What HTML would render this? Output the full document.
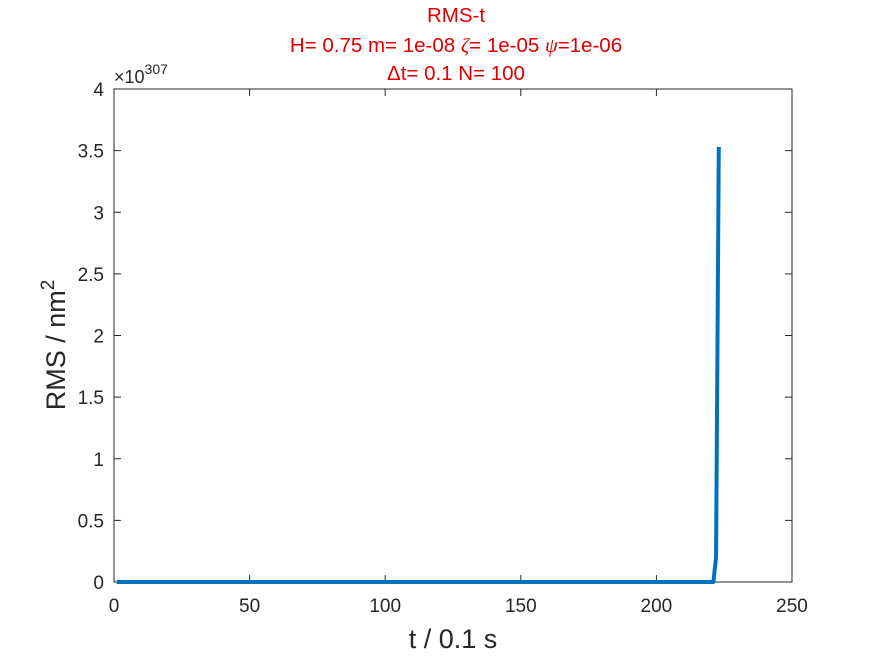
<!DOCTYPE html>
<html><head><meta charset="utf-8"><style>
body{margin:0;background:#fff;}
svg text{font-family:"Liberation Sans",Arial,sans-serif;}
</style></head><body>
<svg id="chart" width="875" height="656" viewBox="0 0 875 656">
<rect x="0" y="0" width="875" height="656" fill="#fff"/>
<g fill="#e00000" font-size="20.5" text-anchor="middle">
<text x="456" y="22">RMS-t</text>
<text x="456" y="52">H= 0.75 m= 1e-08 <tspan font-family="Liberation Serif" font-style="italic">ζ</tspan>= 1e-05 <tspan font-family="Liberation Serif" font-style="italic">ψ</tspan>=1e-06</text>
<text x="456" y="80">Δt= 0.1 N= 100</text>
</g>
<rect x="114" y="89" width="678" height="493" fill="none" stroke="#262626" stroke-width="1"/>
<g id="xticks"></g>
<g id="yticks"></g>
<text x="114" y="83" font-size="18" fill="#262626">×10<tspan dy="-9" font-size="14">307</tspan></text>
<text x="453" y="648" font-size="27" fill="#262626" text-anchor="middle">t / 0.1 s</text>
<text transform="translate(65,345) rotate(-90)" font-size="27" fill="#262626" text-anchor="middle">RMS / nm<tspan dy="-11" font-size="19">2</tspan></text>
<path id="series" fill="none" stroke="#0072bd" stroke-width="4" stroke-linejoin="round"/>
</svg>
<script>
const xTicks=[0,50,100,150,200,250];
const yTicks=[0,0.5,1,1.5,2,2.5,3,3.5,4];
const yTickLabels=["0","0.5","1","1.5","2","2.5","3","3.5","4"];
const zeroCount=221;
const tailValues=[0.2,3.53];
const rmsValues=new Array(zeroCount).fill(0).concat(tailValues);
const tValues=rmsValues.map((v,i)=>i+1);
const X0=114,X1=792,Y0=582,Y1=89;
const xs=t=>X0+(t-0)/(250-0)*(X1-X0);
const ys=v=>Y0-(v-0)/(4-0)*(Y0-Y1);
const NS="http://www.w3.org/2000/svg";
const gx=document.getElementById('xticks'),gy=document.getElementById('yticks');
xTicks.forEach(t=>{
  const x=xs(t);
  [[Y0,Y0-7],[Y1,Y1+7]].forEach(([a,b])=>{
    const l=document.createElementNS(NS,'line');
    
    
    l.setAttribute('x1',x);l.setAttribute('x2',x);l.setAttribute('y1',a);l.setAttribute('y2',b);l.setAttribute('stroke','#262626');
    gx.appendChild(l);
  });
  const tx=document.createElementNS(NS,'text');
  
  
  tx.setAttribute('x',x);tx.setAttribute('y',612);tx.setAttribute('font-size','19');tx.setAttribute('text-anchor','middle');tx.setAttribute('fill','#262626');
  tx.textContent=t;gx.appendChild(tx);
});
yTicks.forEach((v,i)=>{
  const y=ys(v);
  [[X0,X0+7],[X1,X1-7]].forEach(([a,b])=>{
    const l=document.createElementNS(NS,'line');
    
    
    l.setAttribute('y1',y);l.setAttribute('y2',y);l.setAttribute('x1',a);l.setAttribute('x2',b);l.setAttribute('stroke','#262626');
    gy.appendChild(l);
  });
  const tx=document.createElementNS(NS,'text');
  
  
  tx.setAttribute('x',104);tx.setAttribute('y',y+7);tx.setAttribute('font-size','19');tx.setAttribute('text-anchor','end');tx.setAttribute('fill','#262626');
  tx.textContent=yTickLabels[i];gy.appendChild(tx);
});
document.getElementById('series').setAttribute('d',rmsValues.map((v,i)=>(i?'L':'M')+xs(tValues[i]).toFixed(2)+','+ys(v).toFixed(2)).join(''));
</script>
</body></html>
